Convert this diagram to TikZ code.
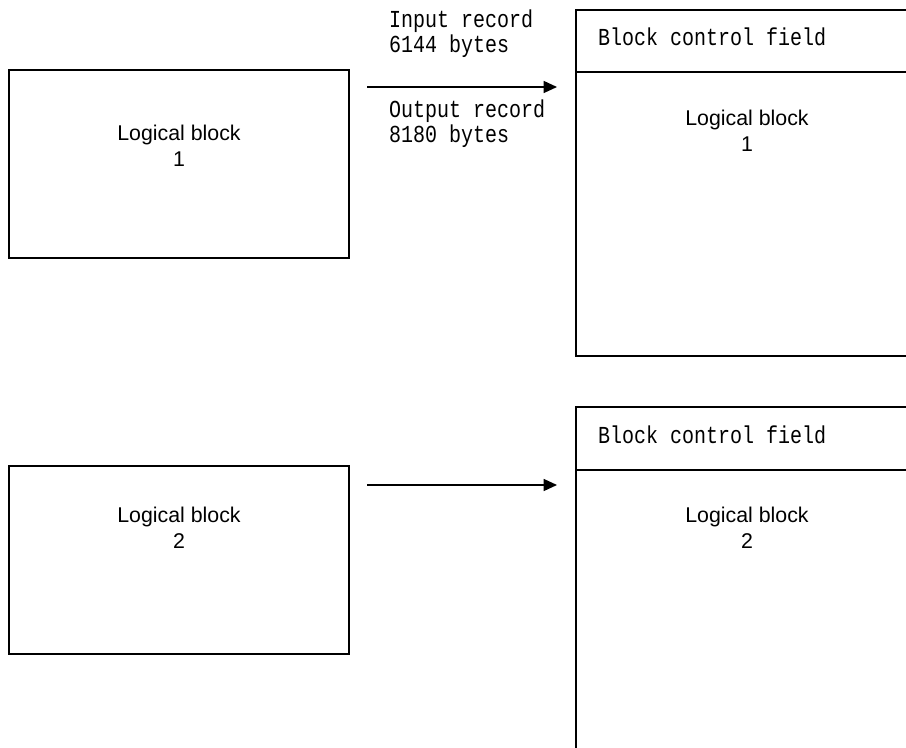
\documentclass[tikz,border=0pt]{standalone}
\usepackage{fontspec}
\setmainfont{Liberation Sans}
\newfontfamily\recfont[FakeStretch=0.82]{Liberation Mono}
\usetikzlibrary{arrows.meta}

\begin{document}
\begin{tikzpicture}[x=0.75pt, y=-0.75pt, line width=1pt,
  blocktext/.style={font=\fontsize{16}{19.5}\selectfont, align=center, anchor=base},
  fieldtext/.style={font=\recfont\fontsize{18.3}{18.75}\selectfont, align=left, anchor=base west},
  feed/.style={-{Triangle[length=10pt,width=9pt]}}]
  \clip (0,0) rectangle (906,748);
  % logical blocks as read (input records)
  \draw (9,70) rectangle (349,258);
  \node[blocktext] (lb1) at (179,167) {Logical block\\1};
  \draw (9,466) rectangle (349,654);
  \node[blocktext] (lb2) at (179,548) {Logical block\\2};
  % record sizes
  \node[fieldtext] (inrec) at (384,53) {Input record\\6144 bytes};
  \node[fieldtext] (outrec) at (384,143) {Output record\\8180 bytes};
  % conversion arrows
  \coordinate (in1) at (367,87);
  \coordinate (out1) at (557,87);
  \draw[feed] (in1) -- (out1);
  \coordinate (in2) at (367,485);
  \coordinate (out2) at (557,485);
  \draw[feed] (in2) -- (out2);
  % output blocks: control field on top, logical block below
  \draw (576,10) rectangle (940,356);
  \draw (576,72) -- (940,72);
  \node[fieldtext] (bcf1) at (593,46) {Block control field};
  \node[blocktext] (ob1) at (747,152) {Logical block\\1};
  \draw (576,407) rectangle (940,790);
  \draw (576,470) -- (940,470);
  \node[fieldtext] (bcf2) at (593,443) {Block control field};
  \node[blocktext] (ob2) at (747,548) {Logical block\\2};
\end{tikzpicture}
\end{document}
